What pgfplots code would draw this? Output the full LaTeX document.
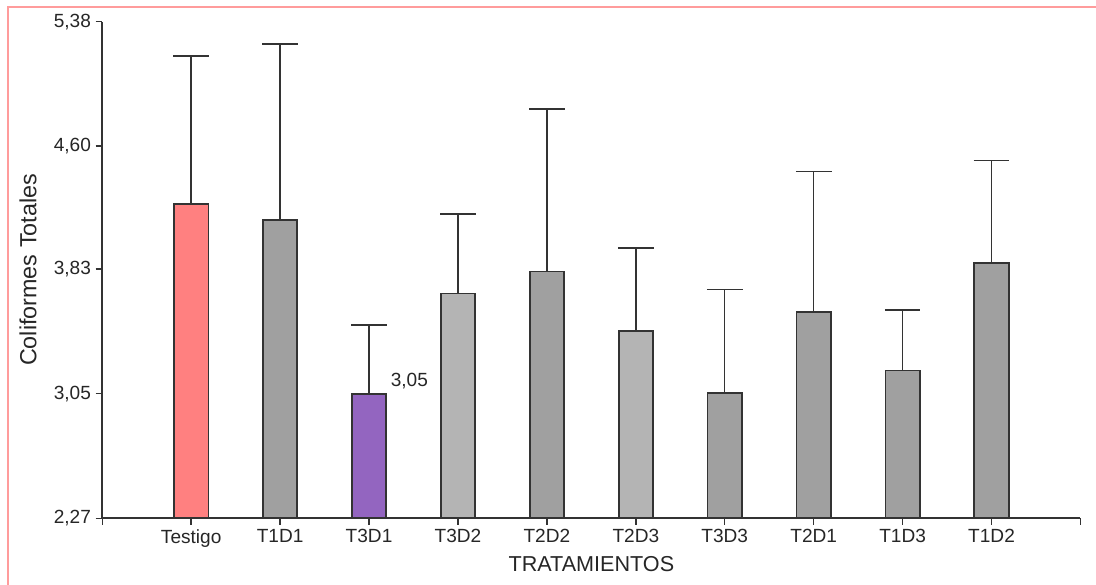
\documentclass[border=0pt]{standalone}
\usepackage{fontspec}
\setmainfont{Liberation Sans}
\usepackage{pgfplots}
\pgfplotsset{compat=1.18}
\definecolor{salmon}{HTML}{FF8080}
\definecolor{purp}{HTML}{9365C0}
\definecolor{gdark}{HTML}{A0A0A0}
\definecolor{glight}{HTML}{B4B4B4}
\definecolor{framec}{HTML}{FF9C9C}
\definecolor{ink}{HTML}{333333}
\pgfplotsset{
  mybar/.style={ybar, bar width=25.8pt, bar shift=0pt, draw=ink, line width=1.3pt,
    error bars/y dir=plus, error bars/y explicit,
    error bars/error mark=|,
    error bars/error bar style={line width=1.1pt, draw=ink},
    error bars/error mark options={mark size=13.4pt, line width=1.1pt, draw=ink}}
}
\begin{document}
\begin{tikzpicture}
\begin{axis}[
  at={(0,0)}, anchor=south west,
  scale only axis, width=733.65pt, height=372.45pt,
  xmin=-1, xmax=10, ymin=2.27, ymax=5.38,
  axis x line*=bottom, axis y line*=left,
  axis line style={ink, line width=1.3pt},
  xtick={-1,0,...,10},
  xticklabels={,Testigo,T1D1,T3D1,T3D2,T2D2,T2D3,T3D3,T2D1,T1D3,T1D2,},
  ytick={2.27,3.05,3.83,4.60,5.38},
  yticklabels={{2,27},{3,05},{3,83},{4,60},{5,38}},
  tick align=outside,
  major tick length=5pt,
  tick style={ink, line width=1.1pt},
  ticklabel style={font=\fontsize{14.3}{16}\selectfont, text=black!85},
  xlabel={TRATAMIENTOS}, ylabel={Coliformes Totales},
  xlabel style={at={(axis description cs:0.5,0)}, anchor=base, yshift=-40pt, font=\fontsize{16.2}{18}\selectfont, text=black!85},
  ylabel style={at={([xshift=-55.7pt]axis description cs:0,0.5)}, anchor=center, rotate=0, font=\fontsize{17.5}{20}\selectfont, text=black!85},
]
\addplot[mybar, fill=salmon] coordinates {(0,4.239) +- (0,0.926)};
\addplot[mybar, fill=gdark] coordinates {(1,4.138) +- (0,1.102) (4,3.815) +- (0,1.018) (6,3.055) +- (0,0.649) (7,3.562) +- (0,0.881) (8,3.195) +- (0,0.378) (9,3.869) +- (0,0.641)};
\addplot[mybar, fill=purp] coordinates {(2,3.05) +- (0,0.431)};
\addplot[mybar, fill=glight] coordinates {(3,3.677) +- (0,0.499) (5,3.445) +- (0,0.518)};
\node[anchor=base west, xshift=16.1pt, yshift=5.25pt, inner sep=0pt, font=\fontsize{14.3}{16}\selectfont, text=black!85] at (axis cs:2,3.05) {3,05};
\end{axis}
\pgfresetboundingbox
\path[use as bounding box] (-76.7pt,-50pt) rectangle (745.3pt,388.7pt);
\draw[framec, line width=1.5pt] (-70.7pt,-51pt) -- (-70.7pt,383.1pt) -- (746pt,383.1pt);
\end{tikzpicture}
\end{document}
